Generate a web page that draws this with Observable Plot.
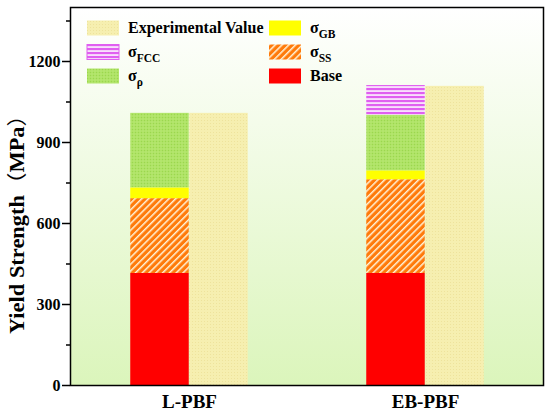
<!DOCTYPE html>
<html><head><meta charset="utf-8">
<script src="https://cdn.jsdelivr.net/npm/d3@7"></script>
<script src="https://cdn.jsdelivr.net/npm/@observablehq/plot@0.6"></script>
<style>body{margin:0;background:#fff}</style>
</head><body><div id="chart"></div>
<script>
const categories = ["L-PBF", "EB-PBF"];
const components = ["Base", "σSS", "σGB", "σρ", "σFCC"];
const baseValues = [415, 415];
const ssValues = [277, 347];
const gbValues = [40, 33];
const rhoValues = [276, 206];
const fccValues = [0, 110];
const experimentalValues = [1008, 1108];
const yTicks = [0, 300, 600, 900, 1200];
const yMinorTicks = [150, 450, 750, 1050, 1350];
const yLabelParts = ["Yield Strength", "（", "MPa", "）"];

const fills = {"Base": "#ff0000", "σSS": "url(#pSS)", "σGB": "#ffff00", "σρ": "url(#pRho)", "σFCC": "url(#pFCC)"};
const series = [baseValues, ssValues, gbValues, rhoValues, fccValues];
const stacked = [];
categories.forEach((c, i) => components.forEach((k, j) => stacked.push({category: c, component: k, value: series[j][i]})));
const experimental = categories.map((c, i) => ({category: c, value: experimentalValues[i]}));

const legendItems = [
  {key: "exp", main: "Experimental Value", sub: "", col: 0, row: 0},
  {key: "σFCC", main: "σ", sub: "FCC", col: 0, row: 1},
  {key: "σρ", main: "σ", sub: "ρ", col: 0, row: 2},
  {key: "σGB", main: "σ", sub: "GB", col: 1, row: 0},
  {key: "σSS", main: "σ", sub: "SS", col: 1, row: 1},
  {key: "Base", main: "Base", sub: "", col: 1, row: 2}
];

function defs() {
  const g = d3.create("svg:g");
  const d = g.append("defs");
  const bg = d.append("linearGradient").attr("id", "bg").attr("x1", 0).attr("y1", 0).attr("x2", 0).attr("y2", 1);
  bg.append("stop").attr("offset", 0).attr("stop-color", "#ffffff");
  bg.append("stop").attr("offset", 1).attr("stop-color", "#dbf5bb");
  const ss = d.append("pattern").attr("id", "pSS").attr("patternUnits", "userSpaceOnUse")
    .attr("width", 4.8).attr("height", 4.8).attr("patternTransform", "rotate(45)");
  ss.append("rect").attr("width", 4.8).attr("height", 4.8).attr("fill", "#ff7a0a");
  ss.append("rect").attr("width", 1.5).attr("height", 4.8).attr("fill", "#fff3d8");
  const fcc = d.append("pattern").attr("id", "pFCC").attr("patternUnits", "userSpaceOnUse")
    .attr("width", 4).attr("height", 4);
  fcc.append("rect").attr("width", 4).attr("height", 4).attr("fill", "#e05ff0");
  fcc.append("rect").attr("y", 2.3).attr("width", 4).attr("height", 1.5).attr("fill", "#ffffff");
  const rho = d.append("pattern").attr("id", "pRho").attr("patternUnits", "userSpaceOnUse")
    .attr("width", 3).attr("height", 3);
  rho.append("rect").attr("width", 3).attr("height", 3).attr("fill", "#aee364");
  rho.append("rect").attr("width", 1).attr("height", 1).attr("fill", "#9bd650");
  rho.append("rect").attr("x", 1.5).attr("y", 1.5).attr("width", 1).attr("height", 1).attr("fill", "#c2ec88");
  const ex = d.append("pattern").attr("id", "pExp").attr("patternUnits", "userSpaceOnUse")
    .attr("width", 3).attr("height", 3);
  ex.append("rect").attr("width", 3).attr("height", 3).attr("fill", "#f6efb0");
  ex.append("rect").attr("width", 1).attr("height", 1).attr("fill", "#eee39c");
  return g.node();
}

function legend() {
  const g = d3.create("svg:g").attr("font-weight", "bold").attr("font-size", 16).attr("text-anchor", "start");
  for (const it of legendItems) {
    const x = it.col === 0 ? 87 : 269;
    const cy = 28 + it.row * 24;
    g.append("rect").attr("x", x).attr("y", cy - 7.5).attr("width", 32).attr("height", 15)
      .attr("fill", it.key === "exp" ? "url(#pExp)" : fills[it.key])
      .attr("stroke", it.key === "σFCC" ? "#e05ff0" : "none");
    const t = g.append("text").attr("x", x + 41).attr("y", cy + 5).attr("fill", "black");
    t.append("tspan").text(it.main);
    if (it.sub) t.append("tspan").attr("dy", 5).attr("font-size", 11.5).text(it.sub);
  }
  return g.node();
}

function yTitle() {
  const g = d3.create("svg:g");
  const t = g.append("text").attr("transform", "translate(17,219) rotate(-90)")
    .attr("text-anchor", "middle").attr("dy", "0.35em")
    .attr("font-size", 20).attr("font-weight", "bold").attr("fill", "black")
    .attr("textLength", 230).attr("lengthAdjust", "spacingAndGlyphs");
  yLabelParts.forEach((p, i) => {
    const s = t.append("tspan").text(p);
    if (p === "（" || p === "）") s.attr("font-family", "'Noto Sans CJK SC', sans-serif").attr("font-weight", "normal");
  });
  return g.node();
}

const chart = Plot.plot({
  width: 550,
  height: 416,
  marginLeft: 70,
  marginRight: 7,
  marginTop: 7,
  marginBottom: 31,
  style: {fontFamily: "'Liberation Serif', 'Times New Roman', serif", fontWeight: "bold", background: "white", color: "black"},
  x: {domain: categories, padding: 0},
  y: {domain: [0, 1400]},
  color: {domain: components, range: components.map(k => fills[k])},
  marks: [
    defs,
    Plot.frame({fill: "url(#bg)"}),
    Plot.barY(stacked, {x: "category", y: "value", fill: "component", order: components, insetLeft: 59.25, insetRight: 118.25}),
    Plot.barY(experimental, {x: "category", y: "value", fill: "url(#pExp)", insetLeft: 118.25, insetRight: 59.25}),
    Plot.frame({stroke: "black", strokeWidth: 1.5}),
    Plot.axisY(yTicks, {tickSize: 8, tickPadding: 2, fontSize: 16, fontWeight: "bold", strokeWidth: 1.5, label: null, tickFormat: d3.format("d")}),
    Plot.axisY(yMinorTicks, {tickSize: 4, text: null, strokeWidth: 1.5, label: null}),
    Plot.axisX({tickSize: 0, tickPadding: 9, fontSize: 19, fontWeight: "bold", label: null}),
    yTitle,
    legend
  ]
});
document.getElementById("chart").appendChild(chart);
</script>
</body></html>
